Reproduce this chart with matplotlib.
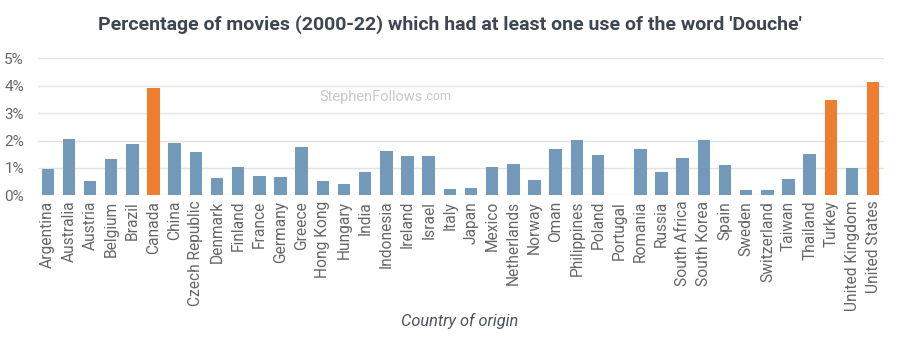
import matplotlib.pyplot as plt
import numpy as np

countries = ["Argentina", "Australia", "Austria", "Belgium", "Brazil", "Canada",
             "China", "Czech Republic", "Denmark", "Finland", "France", "Germany",
             "Greece", "Hong Kong", "Hungary", "India", "Indonesia", "Ireland",
             "Israel", "Italy", "Japan", "Mexico", "Netherlands", "Norway", "Oman",
             "Philippines", "Poland", "Portugal", "Romania", "Russia", "South Africa",
             "South Korea", "Spain", "Sweden", "Switzerland", "Taiwan", "Thailand",
             "Turkey", "United Kingdom", "United States"]
pct = [0.97, 2.04, 0.52, 1.32, 1.87, 3.93,
       1.91, 1.57, 0.64, 1.03, 0.69, 0.67,
       1.76, 0.52, 0.40, 0.84, 1.62, 1.43,
       1.43, 0.22, 0.27, 1.04, 1.13, 0.57, 1.68,
       2.03, 1.46, 0.0, 1.68, 0.85, 1.37,
       2.03, 1.10, 0.18, 0.18, 0.59, 1.52,
       3.47, 0.98, 4.15]
highlight = ["Canada", "Turkey", "United States"]
yticks = [0, 1, 2, 3, 4, 5]

blue = "#7399bb"
orange = "#ef7d2f"
colors = [orange if c in highlight else blue for c in countries]

plt.rcParams['font.family'] = ['Roboto', 'DejaVu Sans']

fig = plt.figure(figsize=(9, 3.46), dpi=100)
ax = fig.add_axes([0.042, 0.4355, 0.940, 0.396])

x = np.arange(len(countries))
ax.bar(x, pct, width=0.59, color=colors, zorder=3)

ax.set_xlim(-0.47, len(countries) - 0.5)
ax.set_ylim(0, 5)
ax.set_yticks(yticks)
ax.set_yticklabels([f"{v}%" for v in yticks], fontsize=11, color="#666666")
ax.set_xticks(x)
ax.set_xticklabels(countries, rotation=90, fontsize=11.2, color="#666666")
ax.tick_params(length=0, pad=4)
ax.tick_params(axis="y", pad=10)
ax.grid(axis="y", color="#e2e2e2", linewidth=1, zorder=0)
for s in ax.spines.values():
    s.set_visible(False)

fig.text(0.5, 0.93, "Percentage of movies (2000-22) which had at least one use of the word 'Douche'",
         ha="center", va="center", fontsize=14, fontweight="bold", color="#3d4752")
fig.text(0.511, 0.072, "Country of origin", ha="center", va="center",
         fontsize=11.8, style="italic", color="#4a5360")

# watermark
t = ax.text(0.333, 0.72, "StephenFollows", transform=ax.transAxes,
            fontsize=10.5, color="#c8c8c8", va="center", zorder=1)
fig.canvas.draw()
bb = t.get_window_extent()
inv = ax.transAxes.inverted()
xr = inv.transform((bb.x1, bb.y0))[0]
ax.text(xr, 0.72, ".com", transform=ax.transAxes, fontsize=9,
        color="#c8c8c8", va="center", zorder=1)

fig.savefig("out.png", dpi=100, facecolor="white")
